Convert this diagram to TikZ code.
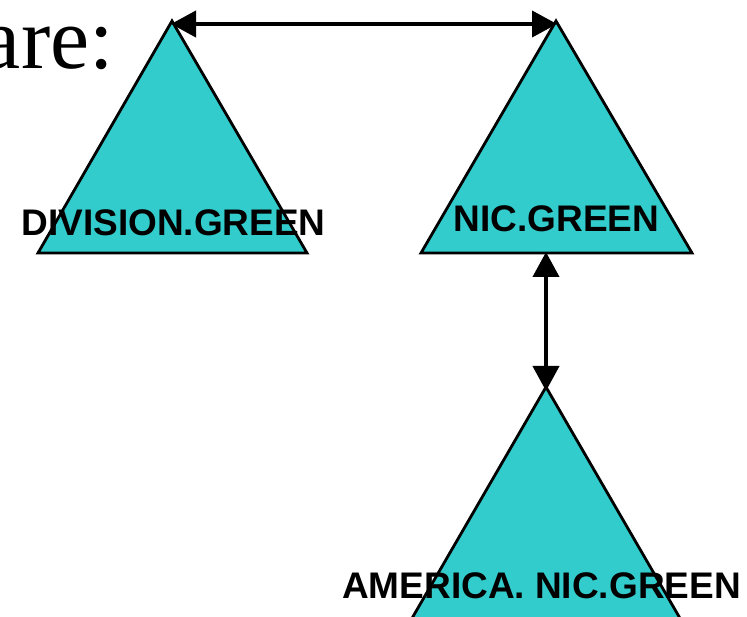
\documentclass[tikz,border=0pt]{standalone}
\usepackage{fontspec}
\setmainfont{Liberation Serif}
\newfontfamily\labelfont{Liberation Sans}
\usetikzlibrary{arrows.meta}
\definecolor{teal1}{RGB}{51,204,204}
\tikzset{
  tri/.style={fill=teal1, draw=black, line width=2.8pt, line join=miter},
  lbl/.style={font=\labelfont\bfseries\fontsize{37}{40}\selectfont, inner sep=0pt, anchor=base},
  conn/.style={line width=4pt, {Triangle[length=25pt,width=26pt]}-{Triangle[length=25pt,width=26pt]}, shorten <=-1pt, shorten >=-1pt}
}
\begin{document}
\begin{tikzpicture}[x=1pt,y=-1pt]
\useasboundingbox (0,0) rectangle (747,617);
\begin{scope}
\clip (0,0) rectangle (747,617);
% apexes
\coordinate (apL) at (172,21);
\coordinate (apR) at (556,21);
\coordinate (apB) at (546,387);
\coordinate (baseR) at (546,253);
% triangles
\draw[tri] (apL) -- (38,253) -- (307,253) -- cycle;
\draw[tri] (apR) -- (421,253) -- (692,253) -- cycle;
\draw[tri] (apB) -- (411,620) -- (681,620) -- cycle;
% text
\node[font=\fontsize{88}{96}\selectfont, inner sep=0pt, anchor=base east] (are) at (114,69) {are:};
\node[lbl] (div) at (173.5,236) {DIVISION.GREEN};
\node[lbl] (nic) at (556.5,232) {NIC.GREEN};
\node[lbl] (ame) at (541.5,598) {AMERICA. NIC.GREEN};
% connectors
\draw[conn] ([yshift=-3pt]apL) -- ([yshift=-3pt]apR);
\draw[conn] (baseR) -- ([yshift=-3pt]apB);
\end{scope}
\end{tikzpicture}
\end{document}
